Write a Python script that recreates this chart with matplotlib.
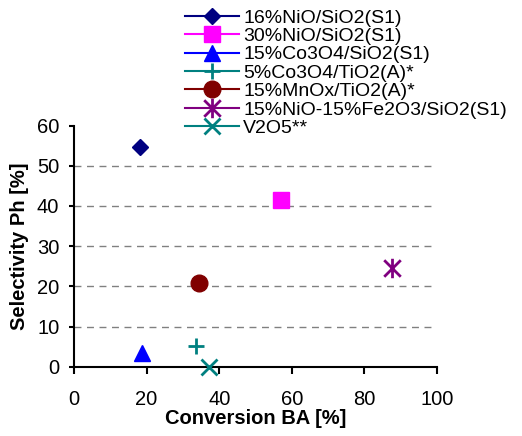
import matplotlib

matplotlib.use("Agg")
import matplotlib.pyplot as plt
from matplotlib.path import Path

plt.rcParams["font.family"] = ["Liberation Sans", "DejaVu Sans"]

# catalyst series: conversion of BA vs selectivity to Ph
SERIES = [
    "16%NiO/SiO2(S1)",
    "30%NiO/SiO2(S1)",
    "15%Co3O4/SiO2(S1)",
    "5%Co3O4/TiO2(A)*",
    "15%MnOx/TiO2(A)*",
    "15%NiO-15%Fe2O3/SiO2(S1)",
    "V2O5**",
]
CONVERSION = [18.2, 56.9, 18.8, 33.6, 34.5, 87.7, 37.3]
SELECTIVITY = [54.8, 41.5, 3.3, 5.2, 20.9, 24.5, 0.0]

X_TICKS = [0, 20, 40, 60, 80, 100]
Y_TICKS = [0, 10, 20, 30, 40, 50, 60]

# vertical bar crossed by an X
STAR = Path(
    [(0, -1), (0, 1), (-0.85, -0.85), (0.85, 0.85), (-0.85, 0.85), (0.85, -0.85)],
    [Path.MOVETO, Path.LINETO, Path.MOVETO, Path.LINETO, Path.MOVETO, Path.LINETO],
)

STYLES = [
    dict(color="#000080", marker="D", markersize=8.5),
    dict(color="#ff00ff", marker="s", markersize=12),
    dict(color="#0000ff", marker="^", markersize=11),
    dict(color="#008080", marker="+", markersize=11, markeredgewidth=2),
    dict(color="#800000", marker="o", markersize=12),
    dict(color="#800080", marker=STAR, markersize=14, markeredgewidth=2),
    dict(color="#008080", marker="x", markersize=12, markeredgewidth=2),
]

fig = plt.figure(figsize=(5.22, 4.36), dpi=100)
ax = fig.add_axes([0.1418, 0.159, 0.6954, 0.5528])

for name, x, y, style in zip(SERIES, CONVERSION, SELECTIVITY, STYLES):
    ax.plot([x], [y], linestyle="-", linewidth=1.5, label=name,
            clip_on=False, zorder=3, **style)

for y in Y_TICKS[1:-1]:
    ax.axhline(y, color="#808080", linewidth=1.0, linestyle=(0, (5, 4)), zorder=1)

ax.set_xlim(0, 100)
ax.set_ylim(0, 60)
ax.set_xticks(X_TICKS)
ax.set_yticks(Y_TICKS)
ax.tick_params(axis="x", length=5, width=1.5, pad=12, labelsize=14.5, direction="out")
ax.tick_params(axis="y", length=3.6, width=1.5, pad=7, labelsize=14.5, direction="out")
for side in ("top", "right"):
    ax.spines[side].set_visible(False)
for side in ("left", "bottom"):
    ax.spines[side].set_linewidth(1.5)

ax.set_xlabel("Conversion BA [%]", fontsize=14.5, fontweight="bold", labelpad=0)
ax.set_ylabel("Selectivity Ph [%]", fontsize=14.5, fontweight="bold", labelpad=6)

fig.legend(
    loc="upper left",
    bbox_to_anchor=(185 / 522, 1 - 9 / 436),
    frameon=False,
    fontsize=14,
    borderpad=0,
    borderaxespad=0,
    handlelength=2.8,
    handletextpad=0.2,
    labelspacing=0.04,
    numpoints=1,
)

fig.savefig("out.png", dpi=100)
